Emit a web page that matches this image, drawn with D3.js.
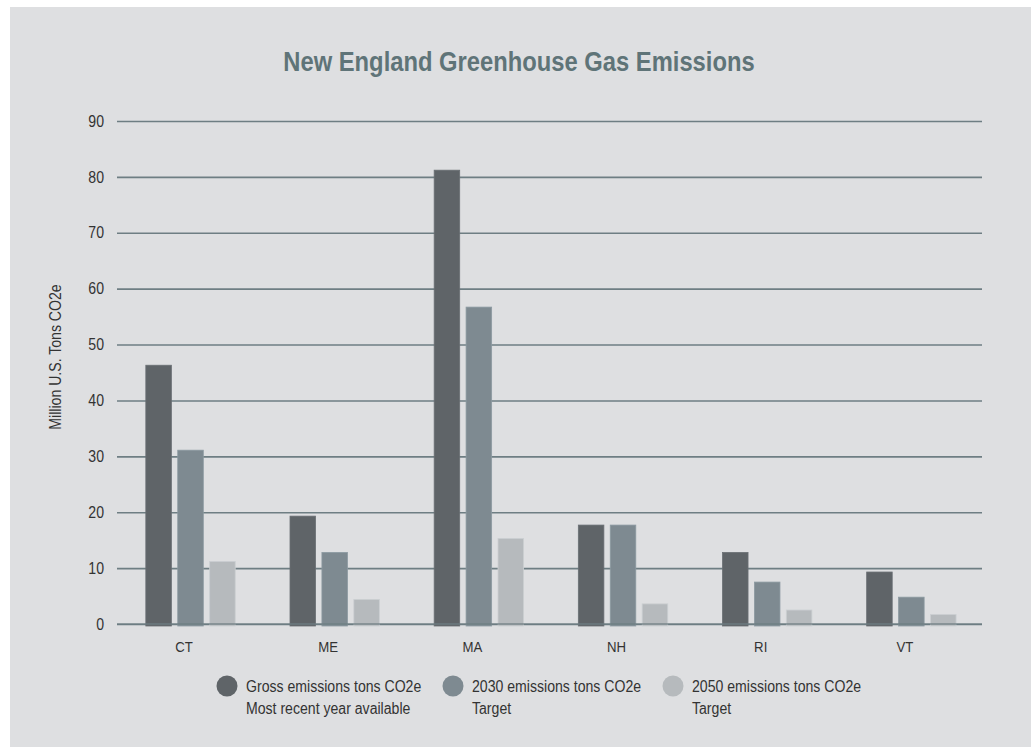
<!DOCTYPE html>
<html><head><meta charset="utf-8">
<script src="https://cdn.jsdelivr.net/npm/d3@7/dist/d3.min.js"></script>
<style>body{margin:0;background:#fff}svg{display:block}</style>
</head><body>
<svg id="c" width="1031" height="747"></svg>
<script>
const categories = ["CT","ME","MA","NH","RI","VT"];
const seriesNames = ["Gross emissions tons CO2e","2030 emissions tons CO2e","2050 emissions tons CO2e"];
const seriesSub = ["Most recent year available","Target","Target"];
const gross = [46.3, 19.3, 81.2, 17.7, 12.8, 9.3];
const target2030 = [31.1, 12.8, 56.7, 17.7, 7.5, 4.8];
const target2050 = [11.2, 4.4, 15.3, 3.6, 2.5, 1.7];
const yTicks = [0,10,20,30,40,50,60,70,80,90];
const colors = ["#5f6468","#7e8a91","#b6babd"];
const FONT = "'Liberation Sans',Arial,Helvetica,sans-serif";
const CONDENSE = 0.88;

(function(){
const series = [gross, target2030, target2050];
const svg = d3.select("#c");
svg.append("rect").attr("x",10).attr("y",7).attr("width",1021).attr("height",740).attr("fill","#dedfe1");

function condense(sel){
  sel.each(function(){
    const w = this.getComputedTextLength();
    d3.select(this).attr("textLength", w*CONDENSE).attr("lengthAdjust","spacingAndGlyphs");
  });
}

const pl = 117, pr = 982, pt = 121, pb = 624;
const y = d3.scaleLinear().domain([0,90]).range([pb, pt]);
const x0 = d3.scaleBand().domain(categories).range([pl, pr]).padding(0);
const bw = x0.bandwidth();
const x1 = d3.scaleBand().domain([0,1,2]).range([bw*0.20, bw*0.82]).paddingInner(0.2).paddingOuter(0);

const yAxis = d3.axisLeft(y).tickValues(yTicks).tickSize(-(pr-pl)).tickPadding(12).tickFormat(d3.format("d"));
const ga = svg.append("g").attr("transform",`translate(${pl},0)`).call(yAxis);
ga.select(".domain").remove();
ga.selectAll(".tick line").attr("stroke","#6e7e83").attr("stroke-width",1.6);
ga.selectAll(".tick text").attr("font-family",FONT).attr("font-size",16).attr("fill","#333").attr("x",-13).call(condense);

const g = svg.append("g");
categories.forEach((c,i)=>{
  series.forEach((s,j)=>{
    g.append("rect")
      .attr("x", x0(c)+x1(j))
      .attr("y", y(s[i]))
      .attr("width", x1.bandwidth())
      .attr("height", y(0)-y(s[i]) + 2)
      .attr("fill", colors[j])
      .attr("stroke", d3.color(colors[j]).brighter(0.3))
      .attr("stroke-width", 0.8);
  });
});
svg.append("line").attr("x1",pl).attr("x2",pr).attr("y1",y(0)).attr("y2",y(0))
  .attr("stroke","#6e7e83").attr("stroke-width",1.6).attr("opacity",0.85);

const xAxis = d3.axisBottom(x0).tickSize(0).tickPadding(17);
const gx = svg.append("g").attr("transform",`translate(0,${pb})`).call(xAxis);
gx.select(".domain").remove();
gx.selectAll(".tick text").attr("font-family",FONT).attr("font-size",15).attr("fill","#333").call(condense);
gx.selectAll(".tick").attr("transform", d => `translate(${x0(d)+bw*0.465},0)`);

svg.append("text").attr("x",519).attr("y",71).attr("text-anchor","middle")
  .attr("font-family",FONT).attr("font-weight","bold").attr("font-size",27).attr("fill","#5f7478")
  .text("New England Greenhouse Gas Emissions").call(condense);

svg.append("text").attr("transform","translate(61,357) rotate(-90)").attr("text-anchor","middle")
  .attr("font-family",FONT).attr("font-size",16).attr("fill","#333").text("Million U.S. Tons CO2e").call(condense);

const lx = [227, 453, 673];
seriesNames.forEach((n,j)=>{
  svg.append("circle").attr("cx",lx[j]).attr("cy",686).attr("r",10.5).attr("fill",colors[j]);
  const tx = svg.append("text").attr("font-family",FONT).attr("font-size",16).attr("fill","#333");
  tx.append("tspan").attr("x",lx[j]+19).attr("y",692).text(n);
  tx.append("tspan").attr("x",lx[j]+19).attr("y",714).text(seriesSub[j]);
  tx.selectAll("tspan").call(condense);
});
})();
</script>
</body></html>
